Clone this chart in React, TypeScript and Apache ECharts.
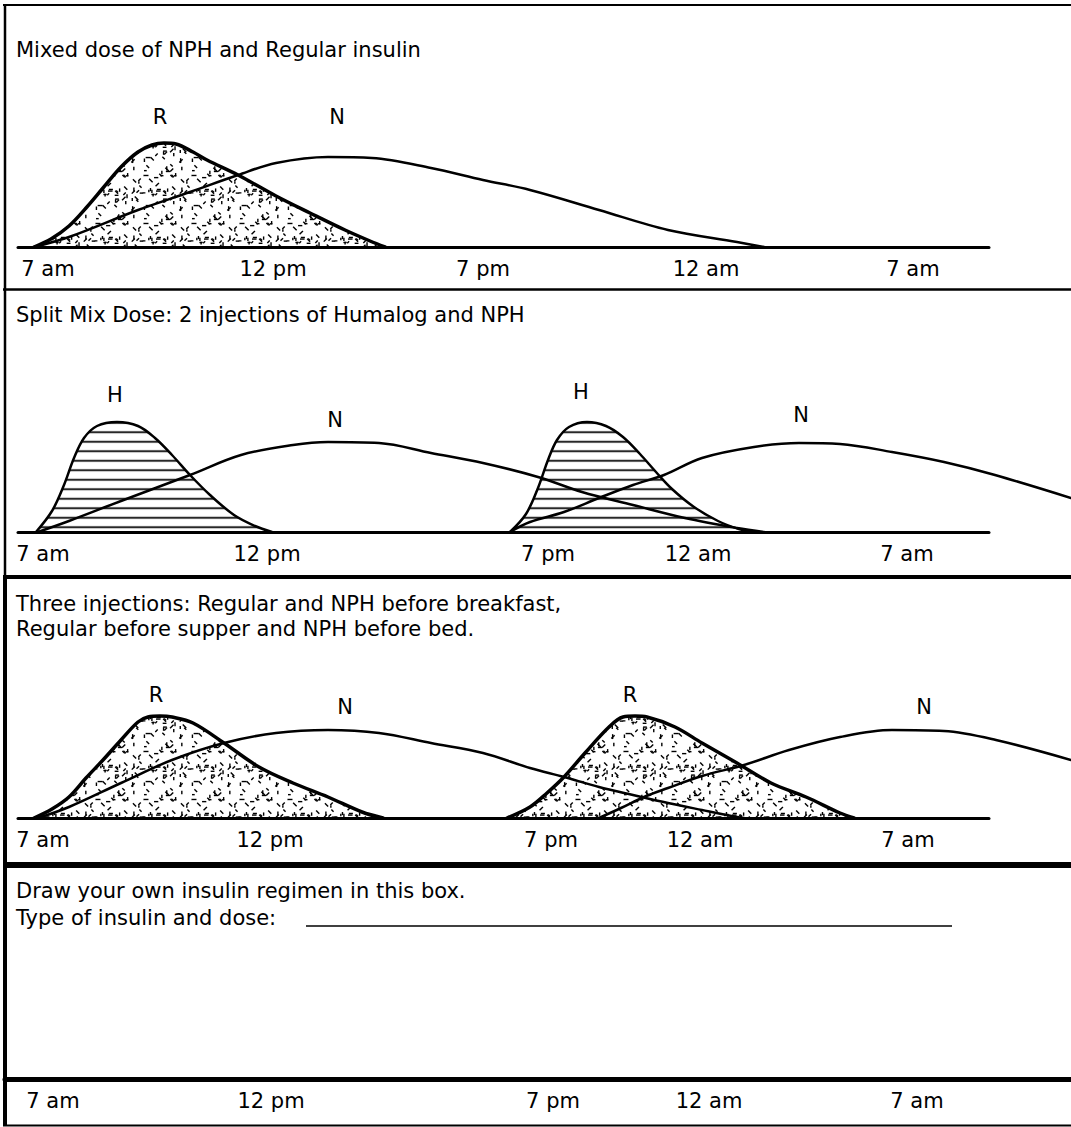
import React, { useEffect, useRef } from "react";
import * as echarts from "echarts";

const FONT = "'DejaVu Sans', Verdana, sans-serif";

// ---------- texts ----------
const panelTitles = [
  "Mixed dose of NPH and Regular insulin",
  "Split Mix Dose: 2 injections of Humalog and NPH",
  "Three injections: Regular and NPH before breakfast,\nRegular before supper and NPH before bed.",
  "Draw your own insulin regimen in this box.\nType of insulin and dose:",
];

// ---------- time-line tick labels (schematic position along the drawn time line) ----------
const tickLabels = ["7 am", "12 pm", "7 pm", "12 am", "7 am"];
const ticksP1 = [48, 273, 483, 706, 913];
const ticksP2 = [43, 267, 548, 698, 907];
const ticksP3 = [43, 270, 551, 700, 908];
const ticksP4 = [53, 271, 553, 709, 917];

// ---------- insulin action curves: [time-line position, action level] ----------
// Panel 1: mixed dose
const p1Regular = [[34,0],[51,8],[69,21],[86,39],[103,59],[121,80],[138,95],[152,102],[164,104],[176,103],[193,95],[207,87],[238,72],[276,51],[310,34],[345,17],[370,6],[385,0]];
const p1NPH = [[34,0],[69,10],[138,37],[190,55],[238,72],[276,84],[328,90],[372,89],[431,79],[483,67],[530,57],[599,37],[668,17],[737,5],[764,0]];

// Panel 2: split mix, Humalog + NPH twice
const p2Humalog1 = [[36,0],[52,21],[64,47],[74,74],[84,94],[97,106],[117,110],[138,106],[155,94],[172,77],[190,57],[210,37],[234,17],[255,6],[272,0]];
const p2NPH1 = [[38,0],[69,11],[121,31],[190,57],[241,77],[293,87],[328,90],[379,89],[431,79],[483,69],[538,55],[582,40],[633,27],[685,14],[737,4],[764,0]];
const p2Humalog2 = [[510,0],[526,18],[538,44],[548,72],[557,92],[569,105],[587,110],[606,106],[623,95],[640,78],[656,60],[672,43],[694,25],[718,11],[739,3],[753,0]];
const p2NPH2 = [[510,0],[530,10],[564,20],[599,34],[633,47],[664,57],[702,74],[754,85],[799,89],[840,88],[892,80],[944,70],[995,57],[1071,34]];

// Panel 3: three injections
const p3Regular1 = [[34,0],[52,9],[69,21],[86,40],[103,58],[121,78],[138,96],[148,101],[160,102],[172,101],[193,95],[224,75],[259,51],[293,35],[328,21],[362,6],[383,0]];
const p3NPH1 = [[38,0],[69,11],[121,35],[172,58],[224,75],[276,85],[328,88],[379,85],[431,75],[483,65],[530,50],[564,41],[599,31],[633,23],[668,15],[702,8],[737,1],[744,0]];
const p3Regular2 = [[507,0],[530,11],[547,25],[564,41],[585,65],[609,91],[623,101],[635,102],[647,101],[675,91],[702,75],[737,55],[771,35],[806,21],[840,5],[854,0]];
const p3NPH2 = [[599,0],[621,10],[644,21],[668,30],[702,42],[744,53],[789,68],[840,81],[892,88],[944,87],[996,78],[1071,58]];

// ---------- curve letters: [letter, position, level] ----------
const lettersP1 = [["R", 160, 130], ["N", 337, 130]];
const lettersP2 = [["H", 115, 137], ["N", 335, 112], ["H", 581, 140], ["N", 801, 117]];
const lettersP3 = [["R", 156, 123], ["N", 345, 111], ["R", 630, 123], ["N", 924, 111]];

// ---------- layout ----------
const W = 1071;
const H = 1127;
const GRID_H = 150;
// axis panels (drawn time line + labels)
const panels = [
  { top: 97, left: 18, right: 82, xMin: 18, xMax: 989, axisW: 3, titleTop: 37, lh: 25, ticks: ticksP1 },
  { top: 382, left: 18, right: 82, xMin: 18, xMax: 989, axisW: 3, titleTop: 302, lh: 25, ticks: ticksP2 },
  { top: 668, left: 18, right: 82, xMin: 18, xMax: 989, axisW: 3, titleTop: 591, lh: 25, ticks: ticksP3 },
  { top: 929, left: 5, right: 0, xMin: 5, xMax: 1071, axisW: 5, titleTop: 877, lh: 27, ticks: ticksP4 },
];
// plot panels (curves run on past the end of the drawn line, to the page edge)
const plots = [
  { top: 97, left: 18, right: 0, xMin: 18, xMax: 1071 },
  { top: 382, left: 18, right: 0, xMin: 18, xMax: 1071 },
  { top: 668, left: 18, right: 0, xMin: 18, xMax: 1071 },
];

function makeStipple(): HTMLCanvasElement {
  const size = 48;
  const c = document.createElement("canvas");
  c.width = size;
  c.height = size;
  const ctx = c.getContext("2d")!;
  ctx.strokeStyle = "#000";
  ctx.lineWidth = 1.4;
  let s = 20231;
  const next = () => {
    s = (s * 1103515245 + 12345) & 0x7fffffff;
    return s / 0x7fffffff;
  };
  for (let i = 0; i < 58; i++) {
    const x = next() * size;
    const y = next() * size;
    const a = Math.floor(next() * 4) * (Math.PI / 4);
    const len = 2.5 + next() * 2.5;
    const dx = Math.cos(a) * len;
    const dy = Math.sin(a) * len;
    for (const ox of [-size, 0, size]) {
      for (const oy of [-size, 0, size]) {
        ctx.beginPath();
        ctx.moveTo(x + ox, y + oy);
        ctx.lineTo(x + dx + ox, y + dy + oy);
        ctx.stroke();
      }
    }
  }
  return c;
}

function makeHatch(): HTMLCanvasElement {
  const c = document.createElement("canvas");
  c.width = 20;
  c.height = 19;
  const ctx = c.getContext("2d")!;
  ctx.fillStyle = "#000";
  ctx.fillRect(0, 8, 20, 3);
  return c;
}

export default function App() {
  const ref = useRef<HTMLDivElement>(null);

  useEffect(() => {
    if (!ref.current) return;
    const chart = echarts.init(ref.current, undefined, { renderer: "svg" });

    const stipple: any = { image: makeStipple(), repeat: "repeat", imageWidth: 48, imageHeight: 48 };
    const hatch: any = { image: makeHatch(), repeat: "repeat", imageWidth: 10, imageHeight: 9.5 };

    // plot grids are indices 4..6
    const curve = (data: number[][], panel: number, width: number, fill?: any) => ({
      type: "line",
      data,
      xAxisIndex: 4 + panel,
      yAxisIndex: 4 + panel,
      smooth: 0.35,
      symbol: "none",
      showSymbol: false,
      silent: true,
      z: fill ? 2 : 3,
      lineStyle: { color: "#000", width, cap: "round", join: "round" },
      areaStyle: fill ? { color: fill, opacity: 1 } : undefined,
    });

    const letters = (items: any[], panel: number) => ({
      type: "scatter",
      xAxisIndex: 4 + panel,
      yAxisIndex: 4 + panel,
      silent: true,
      symbolSize: 1,
      itemStyle: { color: "rgba(0,0,0,0)", opacity: 1 },
      z: 5,
      data: items.map(([t, x, y]) => ({ name: t, value: [x, y] })),
      label: {
        show: true,
        position: "inside",
        formatter: (p: any) => p.name,
        color: "#000",
        opacity: 1,
        textBorderWidth: 0,
        fontSize: 21,
        fontFamily: FONT,
      },
    });

    const borderLines = [
      { x1: 3, y1: 5, x2: W, y2: 5, w: 2 },
      { x1: 5, y1: 4, x2: 5, y2: 578, w: 2.5 },
      { x1: 5, y1: 576, x2: 5, y2: 1126, w: 4 },
      { x1: 3, y1: 289.5, x2: W, y2: 289.5, w: 2.5 },
      { x1: 3, y1: 577, x2: W, y2: 577, w: 4 },
      { x1: 3, y1: 865, x2: W, y2: 865, w: 6 },
      { x1: 3, y1: 1125.5, x2: W, y2: 1125.5, w: 2 },
      { x1: 306, y1: 926, x2: 952, y2: 926, w: 1.5 },
    ];

    const axisXs = panels.map((p, i) => ({
      type: "value",
      gridIndex: i,
      min: p.xMin,
      max: p.xMax,
      axisLine: { show: true, onZero: false, lineStyle: { color: "#000", width: p.axisW } },
      axisTick: { show: false },
      splitLine: { show: false },
      axisLabel: {
        customValues: p.ticks,
        formatter: (v: number, idx: number) => {
          const k = p.ticks.indexOf(v);
          return tickLabels[k >= 0 ? k : idx] ?? "";
        },
        margin: 11,
        color: "#000",
        fontSize: 21,
        lineHeight: 21,
        fontFamily: FONT,
      },
    }));
    const plotXs = plots.map((p, i) => ({
      type: "value",
      gridIndex: 4 + i,
      min: p.xMin,
      max: p.xMax,
      show: false,
    }));
    const ys = [...panels, ...plots].map((_, i) => ({
      type: "value",
      gridIndex: i,
      min: 0,
      max: GRID_H,
      show: false,
    }));

    const option: any = {
      animation: false,
      backgroundColor: "#fff",
      title: panels.map((p, i) => ({
        text: panelTitles[i],
        left: 16,
        top: p.titleTop,
        padding: 0,
        textStyle: {
          color: "#000",
          fontWeight: "normal",
          fontFamily: FONT,
          fontSize: 21,
          lineHeight: p.lh,
        },
      })),
      grid: [
        ...panels.map((p) => ({ left: p.left, right: p.right, top: p.top, height: GRID_H })),
        ...plots.map((p) => ({ left: p.left, right: p.right, top: p.top, height: GRID_H })),
      ],
      xAxis: [...axisXs, ...plotXs],
      yAxis: ys,
      series: [
        curve(p1Regular, 0, 3.5, stipple),
        curve(p1NPH, 0, 2.5),
        letters(lettersP1, 0),

        curve(p2Humalog1, 1, 2.5, hatch),
        curve(p2Humalog2, 1, 2.5, hatch),
        curve(p2NPH1, 1, 2.5),
        curve(p2NPH2, 1, 2.5),
        letters(lettersP2, 1),

        curve(p3Regular1, 2, 3.5, stipple),
        curve(p3Regular2, 2, 3.5, stipple),
        curve(p3NPH1, 2, 2.5),
        curve(p3NPH2, 2, 2.5),
        letters(lettersP3, 2),

        { type: "line", xAxisIndex: 3, yAxisIndex: 3, data: [], symbol: "none" },
      ],
      graphic: {
        elements: borderLines.map((b) => ({
          type: "line",
          silent: true,
          z: 10,
          shape: { x1: b.x1, y1: b.y1, x2: b.x2, y2: b.y2 },
          style: { stroke: "#000", lineWidth: b.w },
        })),
      },
    };

    chart.setOption(option);
    return () => chart.dispose();
  }, []);

  return (
    <div
      ref={ref}
      style={{ position: "absolute", left: 0, top: 0, width: W, height: H, background: "#fff" }}
    />
  );
}
